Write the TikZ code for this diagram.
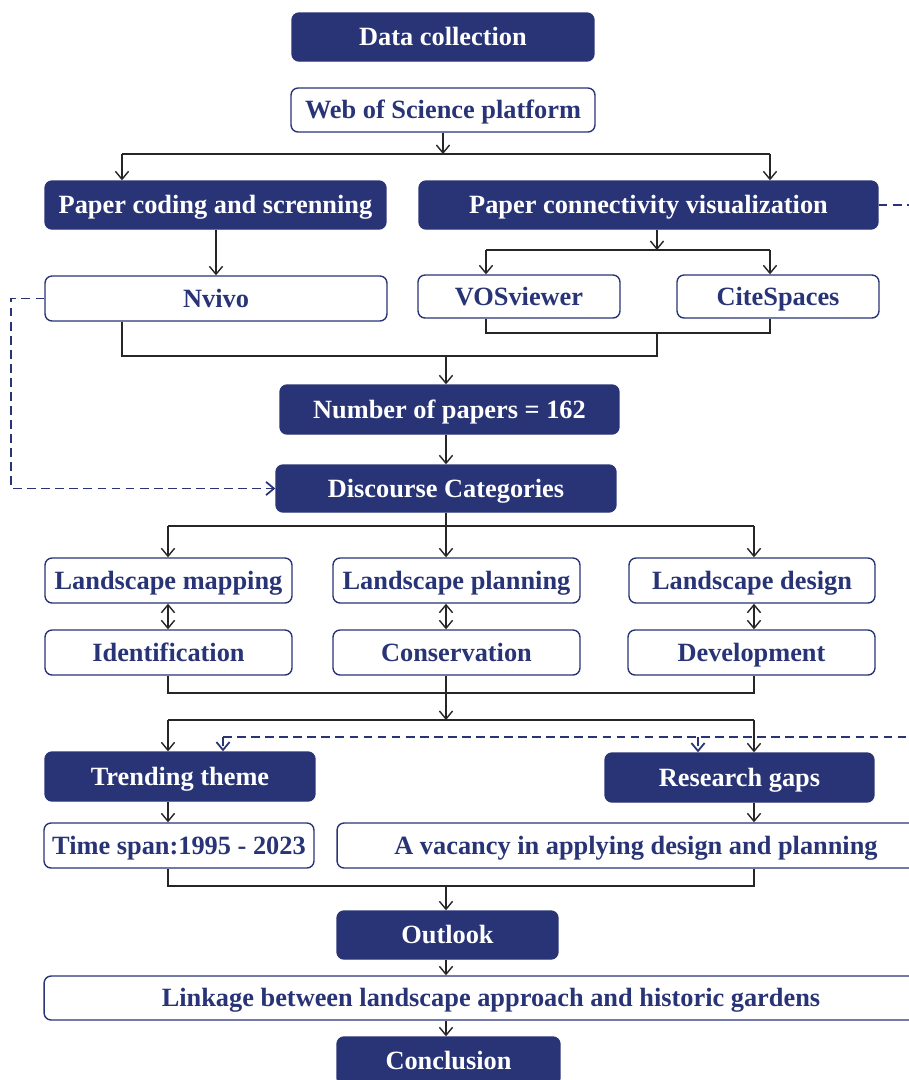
\documentclass[tikz,border=0pt]{standalone}
\usepackage{fontspec}
\setmainfont{Liberation Serif}
\usetikzlibrary{arrows.meta}
\definecolor{navy}{RGB}{40,52,118}
\begin{document}
\begin{tikzpicture}[x=0.02cm,y=-0.02cm,>={Straight Barb[length=4.5pt,width=7.5pt]},
dark/.style={draw=navy,fill=navy,text=white,line width=0.8pt,rounded corners=4pt,inner sep=0pt,minimum height=0.96cm,text height=13.5pt,text depth=3.5pt,font=\fontsize{15}{18}\selectfont\bfseries},
light/.style={draw=navy,fill=white,text=navy,line width=0.8pt,rounded corners=4pt,inner sep=0pt,minimum height=0.9cm,text height=13.5pt,text depth=3.5pt,font=\fontsize{15}{18}\selectfont\bfseries},
line/.style={line width=0.8pt,black!85},
dashlink/.style={line width=1pt,navy,dash pattern=on 5pt off 3pt}]
\useasboundingbox (0,0) rectangle (909,1080);
\clip (0,0) rectangle (909,1080);
\node[dark,minimum width=6.04cm] (data) at (443,37) {Data collection};
\node[light,minimum width=6.08cm,minimum height=0.88cm] (wos) at (443,110) {Web of Science platform};
\node[dark,minimum width=6.82cm] (code) at (215.5,205) {Paper coding and screnning};
\node[dark,minimum width=9.18cm] (conn) at (648.5,205) {Paper connectivity visualization};
\node[light,minimum width=6.84cm] (nvivo) at (216,298.5) {Nvivo};
\node[light,minimum width=4.04cm,minimum height=0.86cm] (vos) at (519,296.5) {VOSviewer};
\node[light,minimum width=4.04cm,minimum height=0.86cm] (cite) at (778,296.5) {CiteSpaces};
\node[dark,minimum width=6.78cm,minimum height=0.98cm] (num) at (449.5,409.5) {Number of papers = 162};
\node[dark,minimum width=6.8cm,minimum height=0.94cm] (disc) at (446,488.5) {Discourse Categories};
\node[light,minimum width=4.94cm] (map) at (168.5,580.5) {Landscape mapping};
\node[light,minimum width=4.94cm] (plan) at (456.5,580.5) {Landscape planning};
\node[light,minimum width=4.92cm] (design) at (752,580.5) {Landscape design};
\node[light,minimum width=4.94cm] (ident) at (168.5,652.5) {Identification};
\node[light,minimum width=4.94cm] (cons) at (456.5,652.5) {Conservation};
\node[light,minimum width=4.94cm] (dev) at (751.5,652.5) {Development};
\node[dark,minimum width=5.4cm,minimum height=0.98cm] (trend) at (180,776.5) {Trending theme};
\node[dark,minimum width=5.38cm,minimum height=0.98cm] (gaps) at (739.5,777.5) {Research gaps};
\node[light,minimum width=5.4cm] (span) at (179,845.5) {Time span:1995 - 2023};
\node[light,minimum width=11.96cm] (vac) at (636,845.5) {A vacancy in applying design and planning};
\node[dark,minimum width=4.42cm] (outlook) at (447.5,935) {Outlook};
\node[light,minimum width=17.88cm,minimum height=0.88cm] (link) at (491,998) {Linkage between landscape approach and historic gardens};
\node[dark,minimum width=4.46cm] (concl) at (448.5,1061) {Conclusion};
\coordinate (a1) at (122,154); \coordinate (a2) at (770,154);
\draw[line,->] (wos.south) -- (wos.south |- a1);
\draw[line] (a1) -- (a2);
\draw[line,->] (a1) -- (a1 |- code.north);
\draw[line,->] (a2) -- (a2 |- conn.north);
\draw[line,->] (code.south -| nvivo) -- (nvivo.north);
\coordinate (b0) at (657,250); \coordinate (b1) at (486,250); \coordinate (b2) at (770,250);
\draw[line,->] (b0 |- conn.south) -- (b0);
\draw[line] (b1) -- (b2);
\draw[line,->] (b1) -- (b1 |- vos.north);
\draw[line,->] (b2) -- (b2 |- cite.north);
\coordinate (c0) at (657,333); \coordinate (c1) at (486,333); \coordinate (c2) at (770,333);
\coordinate (d0) at (446,356); \coordinate (d1) at (122,356);
\draw[line] (c1 |- vos.south) -- (c1) -- (c2) -- (c2 |- cite.south);
\draw[line] (d1 |- nvivo.south) -- (d1) -| (c0);
\draw[line,->] (d0) -- (d0 |- num.north);
\draw[line,->] (d0 |- num.south) -- (d0 |- disc.north);
\draw[dashlink,->] (nvivo.west) -- ++(-33,0) |- (disc.west);
\draw[dashlink] (conn.east) -- ++(60,0);
\coordinate (e0) at (446,526); \coordinate (e1) at (168,526); \coordinate (e2) at (754,526);
\draw[line] (e0 |- disc.south) -- (e0);
\draw[line] (e1) -- (e2);
\draw[line,->] (e1) -- (e1 |- map.north);
\draw[line,->] (e0) -- (e0 |- plan.north);
\draw[line,->] (e2) -- (e2 |- design.north);
\draw[line,<->] (e1 |- map.south) -- (e1 |- ident.north);
\draw[line,<->] (e0 |- plan.south) -- (e0 |- cons.north);
\draw[line,<->] (e2 |- design.south) -- (e2 |- dev.north);
\coordinate (f1) at (168,693); \coordinate (f2) at (754,693);
\coordinate (g0) at (446,720); \coordinate (g1) at (168,720); \coordinate (g2) at (754,720);
\draw[line] (f1 |- ident.south) -- (f1) -- (f2) -- (f2 |- dev.south);
\draw[line,->] (g0 |- cons.south) -- (g0);
\draw[line] (g1) -- (g2);
\draw[line,->] (g1) -- (g1 |- trend.north);
\draw[line,->] (g2) -- (g2 |- gaps.north);
\coordinate (h1) at (223,737); \coordinate (h2) at (698,737);
\draw[dashlink] (h1) -- ++(720,0);
\draw[dashlink,->] (h1) -- (h1 |- trend.north);
\draw[dashlink,->] (h2) -- (h2 |- gaps.north);
\draw[line,->] (g1 |- trend.south) -- (g1 |- span.north);
\draw[line,->] (g2 |- gaps.south) -- (g2 |- vac.north);
\coordinate (k0) at (446,886); \coordinate (k1) at (168,886); \coordinate (k2) at (754,886);
\draw[line] (k1 |- span.south) -- (k1) -- (k2) -- (k2 |- vac.south);
\draw[line,->] (k0) -- (k0 |- outlook.north);
\draw[line,->] (k0 |- outlook.south) -- (k0 |- link.north);
\draw[line,->] (k0 |- link.south) -- (k0 |- concl.north);
\end{tikzpicture}
\end{document}
